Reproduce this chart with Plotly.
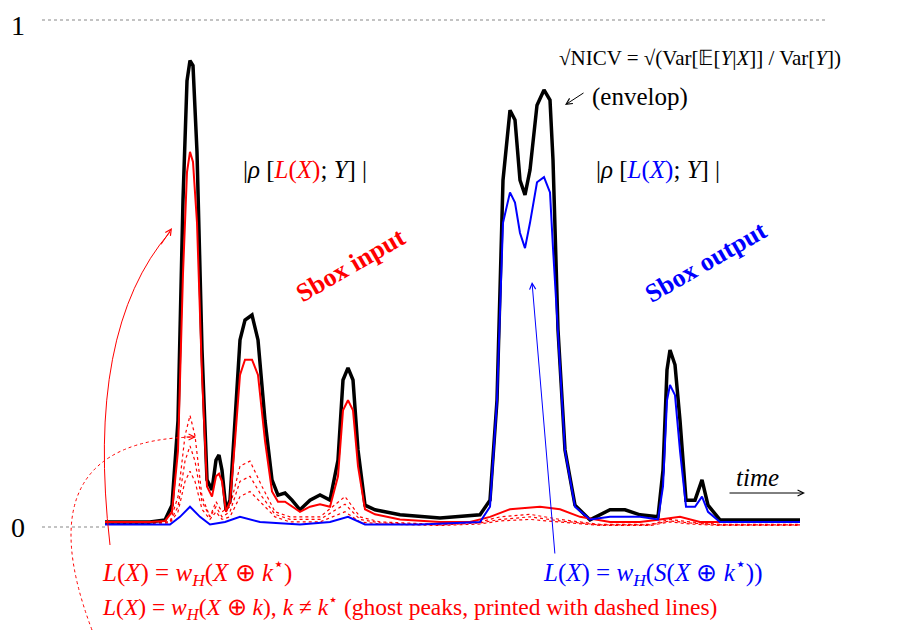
import plotly.graph_objects as go

# time axis (arbitrary units) and curves (normalized 0..1)
black_x = [105,150,165,172,178,183,187,190,193,197,202,207,212,216,219,222,226,230,235,240,245,252,258,265,272,278,285,292,300,310,320,330,338,343,348,353,358,365,375,400,440,480,490,497,503,510,515,520,525,530,537,544,550,553,558,565,575,590,610,625,640,658,663,667,670,675,680,686,695,702,708,720,800]
black_y = [.01,.01,.014,.043,.21,.645,.88,.92,.91,.74,.35,.093,.073,.132,.142,.112,.034,.053,.21,.369,.408,.418,.369,.21,.093,.063,.067,.053,.034,.053,.063,.053,.132,.29,.314,.29,.152,.043,.034,.024,.018,.024,.053,.25,.684,.822,.803,.684,.655,.704,.832,.862,.842,.724,.389,.152,.043,.014,.034,.034,.024,.02,.112,.31,.349,.32,.21,.053,.053,.093,.043,.014,.014]

red_x = [105,150,165,172,178,183,187,190,193,197,202,207,212,216,219,222,226,230,235,240,245,252,258,265,272,278,285,292,300,310,320,330,338,343,348,353,358,365,375,400,440,470,490,510,540,560,580,610,640,660,680,700,720,800]
red_y = [.01,.01,.012,.03,.15,.5,.7,.74,.72,.6,.3,.08,.06,.1,.105,.09,.03,.05,.17,.3,.33,.33,.3,.17,.07,.05,.05,.04,.03,.04,.045,.04,.1,.23,.25,.23,.12,.035,.025,.015,.01,.01,.02,.035,.04,.035,.02,.01,.01,.015,.02,.01,.01,.01]

blue_x = [105,170,180,190,200,210,225,240,260,300,330,348,365,420,480,490,497,503,510,515,520,525,530,537,544,550,553,558,565,575,590,610,640,658,663,667,670,675,680,686,695,702,708,720,800]
blue_y = [.005,.005,.02,.04,.02,.005,.01,.02,.01,.005,.01,.02,.005,.005,.01,.04,.25,.6,.66,.64,.58,.55,.6,.68,.69,.66,.55,.38,.15,.04,.015,.02,.02,.015,.08,.25,.28,.26,.15,.04,.04,.06,.03,.01,.01]

ghost_x = [105,170,178,185,190,195,202,210,216,222,230,240,250,262,275,290,320,345,360,380,440,480,500,530,560,600,650,670,690,720,800]
ghost1_y = [.005,.01,.06,.18,.22,.18,.06,.02,.05,.03,.04,.12,.13,.08,.03,.02,.02,.06,.02,.01,.005,.01,.02,.025,.015,.005,.005,.015,.01,.005,.005]
ghost2_y = [.005,.01,.04,.13,.16,.13,.05,.02,.04,.02,.03,.09,.10,.06,.025,.015,.015,.045,.015,.008,.004,.008,.015,.02,.012,.004,.004,.012,.008,.004,.004]
ghost3_y = [.005,.008,.03,.09,.11,.09,.035,.015,.03,.015,.02,.06,.07,.045,.02,.01,.01,.03,.01,.006,.003,.006,.012,.015,.01,.003,.003,.01,.006,.003,.003]

RED, BLUE = "#ff0000", "#0000ff"
FONT = "Liberation Serif"
OFF = 8  # page offset in pixels

def py(p):  # pixel row -> data y
    return (527 - p) / 507

fig = go.Figure()
for gy in (ghost1_y, ghost2_y, ghost3_y):
    fig.add_trace(go.Scatter(x=ghost_x, y=gy, mode="lines",
                             line=dict(color=RED, width=1.2, dash="dot")))
fig.add_trace(go.Scatter(x=black_x, y=black_y, mode="lines", line=dict(color="black", width=3.5)))
fig.add_trace(go.Scatter(x=red_x, y=red_y, mode="lines", line=dict(color=RED, width=2)))
fig.add_trace(go.Scatter(x=blue_x, y=blue_y, mode="lines", line=dict(color=BLUE, width=2)))

shapes = [
    dict(type="line", x0=42, x1=825, y0=1, y1=1, line=dict(color="#888", width=1.2, dash="dot")),
    dict(type="line", x0=42, x1=105, y0=0, y1=0, line=dict(color="#888", width=1.2, dash="dot")),
    dict(type="path", path=f"M 110 {py(545)} Q 85 {py(330)} 170 {py(232)}",
         line=dict(color=RED, width=1)),
    dict(type="path", path=f"M 92 {py(630)} Q 20 {py(440)} 195 {py(437)}",
         line=dict(color=RED, width=1, dash="dot")),
]

ann = []
def txt(x, p, t, size=25, color="black", **kw):
    ann.append(dict(x=x, y=py(p), text=t, showarrow=False, font=dict(family=FONT, size=size, color=color), **kw))

txt(18, 25, "1", 28)
txt(18, 527, "0", 28)
txt(305, 170, f"|<i>ρ</i> [<span style='color:{RED}'><i>L</i>(<i>X</i>)</span>; <i>Y</i>] |")
txt(658, 170, f"|<i>ρ</i> [<span style='color:{BLUE}'><i>L</i>(<i>X</i>)</span>; <i>Y</i>] |")
txt(700, 58, "√NICV = √(Var[𝔼[<i>Y</i>|<i>X</i>]] / Var[<i>Y</i>])", 21)
txt(640, 97, "(envelop)")
txt(350, 265, "<b>Sbox input</b>", 26, RED, textangle=-30)
txt(705, 262, "<b>Sbox output</b>", 26, BLUE, textangle=-30)
txt(757, 477, "<i>time</i>", 25)
txt(100, 572, "<i>L</i>(<i>X</i>) = <i>w<sub>H</sub></i>(<i>X</i> ⊕ <i>k</i><sup>⋆</sup>)", 25, RED, xanchor="left")
txt(100, 607, "<i>L</i>(<i>X</i>) = <i>w<sub>H</sub></i>(<i>X</i> ⊕ <i>k</i>), <i>k</i> ≠ <i>k</i><sup>⋆</sup> (ghost peaks, printed with dashed lines)", 23.5, RED, xanchor="left")
txt(541, 572, "<i>L</i>(<i>X</i>) = <i>w<sub>H</sub></i>(<i>S</i>(<i>X</i> ⊕ <i>k</i><sup>⋆</sup>))", 25, BLUE, xanchor="left")

def arrow(x0, p0, x1, p1, color="black"):
    ann.append(dict(x=x1, y=py(p1), ax=x0, ay=py(p0), xref="x", yref="y", axref="x", ayref="y",
                    showarrow=True, arrowhead=5, arrowsize=1.2, arrowwidth=1, arrowcolor=color, text=""))
arrow(728, 493, 805, 493)
arrow(585, 92, 565, 105)
arrow(555, 555, 532, 282, BLUE)
arrow(160, 246, 172, 228, RED)
arrow(185, 437, 196, 437, RED)

fig.update_layout(width=920, height=635, margin=dict(l=0, r=0, t=0, b=0),
                  plot_bgcolor="white", paper_bgcolor="white", showlegend=False,
                  shapes=shapes, annotations=ann,
                  xaxis=dict(range=[OFF, 920 + OFF], visible=False),
                  yaxis=dict(range=[py(635 + OFF), py(OFF)], visible=False))
fig.write_html("out.html")
